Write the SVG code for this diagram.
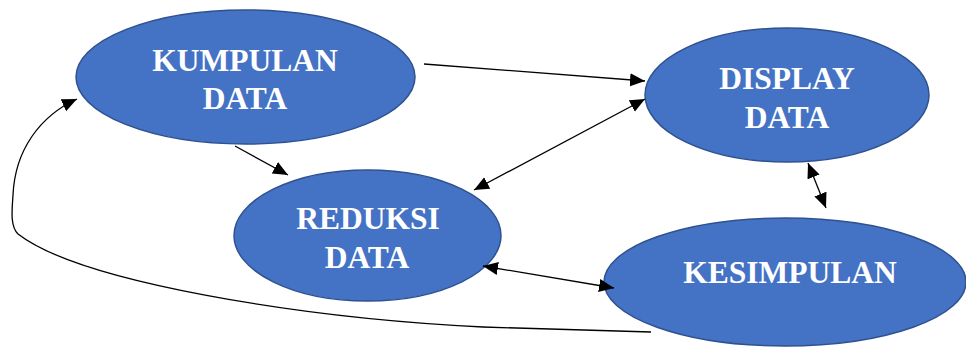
<svg xmlns="http://www.w3.org/2000/svg" width="966" height="347" viewBox="0 0 966 347">
<style>
.node{fill:#4472C4;stroke:#2F528F;stroke-width:1.5}
.lbl{fill:#fff;font-family:"Liberation Serif","Times New Roman",serif;font-weight:bold;font-size:31.5px;text-anchor:middle}
.edge{fill:none;stroke:#000;stroke-width:1.3}
</style>
<defs>
<marker id="ah" markerUnits="userSpaceOnUse" markerWidth="16" markerHeight="14" refX="15" refY="6.5" orient="auto-start-reverse" viewBox="0 0 16 13">
<path d="M0,0 L15,6.5 L0,13 z" fill="#000"/>
</marker>
</defs>
<rect width="966" height="347" fill="#fff"/>
<g id="kumpulan">
<ellipse class="node" cx="245.5" cy="77" rx="169.5" ry="67"/>
<text class="lbl" x="245" y="71">KUMPULAN</text>
<text class="lbl" x="245" y="109">DATA</text>
</g>
<g id="reduksi">
<ellipse class="node" cx="367.5" cy="235.5" rx="133.5" ry="65.5"/>
<text class="lbl" x="368" y="229">REDUKSI</text>
<text class="lbl" x="367" y="268">DATA</text>
</g>
<g id="display">
<ellipse class="node" cx="787" cy="95" rx="142" ry="67"/>
<text class="lbl" x="787" y="89">DISPLAY</text>
<text class="lbl" x="787" y="128">DATA</text>
</g>
<g id="kesimpulan">
<ellipse class="node" cx="785" cy="282" rx="181" ry="64"/>
<text class="lbl" x="790" y="283">KESIMPULAN</text>
</g>
<g id="connectors">
<line class="edge" x1="424" y1="64" x2="645" y2="81" marker-end="url(#ah)"/>
<line class="edge" x1="235" y1="146" x2="288" y2="175" marker-end="url(#ah)"/>
<line class="edge" x1="474" y1="190" x2="645" y2="99" marker-start="url(#ah)" marker-end="url(#ah)"/>
<line class="edge" x1="808" y1="163" x2="826" y2="208" marker-start="url(#ah)" marker-end="url(#ah)"/>
<line class="edge" x1="483" y1="266" x2="614" y2="288" marker-start="url(#ah)" marker-end="url(#ah)"/>
<path class="edge" d="M651,332 L483,327 C300,318 80,282 18,234 C10,226 12,210 13,195 C15,150 40,116 77,99" marker-end="url(#ah)"/>
</g>
</svg>
